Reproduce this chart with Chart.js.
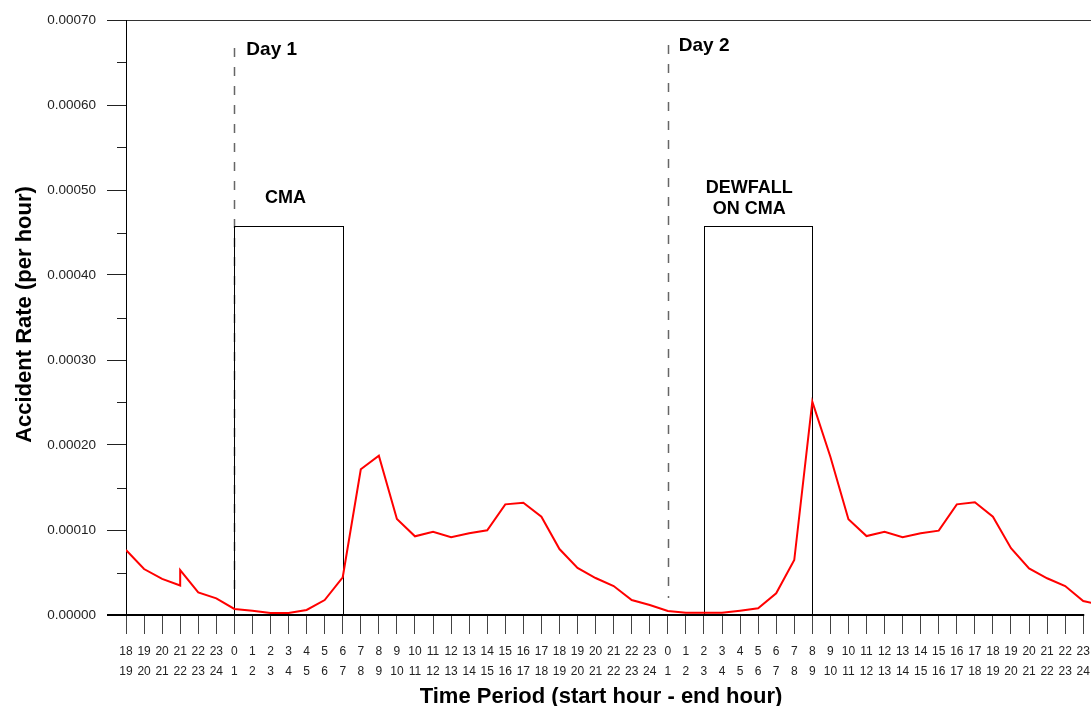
<!DOCTYPE html>
<html>
<head>
<meta charset="utf-8">
<script src="https://cdn.jsdelivr.net/npm/chart.js@4/dist/chart.umd.min.js"></script>
<style>
    html, body { margin: 0; padding: 0; background: #fff; }
    canvas { display: block; }
</style>
</head>
<body>
<canvas id="rateChart" width="1091" height="706"></canvas>
<script>
// tick labels: start hour / end hour of each period
const startHours = [18, 19, 20, 21, 22, 23,
    0, 1, 2, 3, 4, 5, 6, 7, 8, 9, 10, 11, 12, 13, 14, 15, 16, 17, 18, 19, 20, 21, 22, 23,
    0, 1, 2, 3, 4, 5, 6, 7, 8, 9, 10, 11, 12, 13, 14, 15, 16, 17, 18, 19, 20, 21, 22, 23];
const endHours = [19, 20, 21, 22, 23, 24,
    1, 2, 3, 4, 5, 6, 7, 8, 9, 10, 11, 12, 13, 14, 15, 16, 17, 18, 19, 20, 21, 22, 23, 24,
    1, 2, 3, 4, 5, 6, 7, 8, 9, 10, 11, 12, 13, 14, 15, 16, 17, 18, 19, 20, 21, 22, 23, 24];

// period index of each reading (21-22 on the first evening has two readings)
const periodIndex = [0, 1, 2, 3, 3, 4, 5,
    6, 7, 8, 9, 10, 11, 12, 13, 14, 15, 16, 17, 18, 19, 20, 21, 22, 23, 24, 25, 26, 27, 28, 29,
    30, 31, 32, 33, 34, 35, 36, 37, 38, 39, 40, 41, 42, 43, 44, 45, 46, 47, 48, 49, 50, 51, 52, 53,
    54];
const accidentRate = [0.0000765, 0.0000541, 0.0000424, 0.0000347, 0.0000529, 0.0000265, 0.0000196,
    0.0000071, 0.0000051, 0.0000024, 0.0000024, 0.0000059, 0.0000176, 0.0000444, 0.0001714,
    0.0001874, 0.0001129, 0.0000926, 0.0000980, 0.0000914, 0.0000961, 0.0000996, 0.0001302,
    0.0001321, 0.0001156, 0.0000776, 0.0000553, 0.0000435, 0.0000341, 0.0000176, 0.0000118,
    0.0000047, 0.0000027, 0.0000027, 0.0000027, 0.0000051, 0.0000079, 0.0000255, 0.0000647,
    0.0002509, 0.0001862, 0.0001126, 0.0000929, 0.0000980, 0.0000914, 0.0000961, 0.0000992,
    0.0001302, 0.0001326, 0.0001156, 0.0000785, 0.0000549, 0.0000432, 0.0000341, 0.0000165,
    0.0000118];

// annotations (in axis units)
const dayStarts = [6, 30];
const dayNames = ['Day 1', 'Day 2'];
const cmaBox = [6, 12];
const dewfallBox = [32, 38];
const boxTop = 0.000458;

const FONT = '"Liberation Sans", Arial, sans-serif';

const overlay = {
    id: 'overlay',
    beforeDatasetsDraw(chart) {
        const { ctx, scales: { x, y }, chartArea } = chart;
        ctx.save();

        // day separators
        ctx.strokeStyle = '#666';
        ctx.lineWidth = 1.5;
        ctx.setLineDash([9, 10]);
        const dashTops = [48, 45];
        dayStarts.forEach((d, i) => {
            const px = Math.round(x.getPixelForValue(d)) + 0.5;
            ctx.beginPath();
            ctx.moveTo(px, dashTops[i]);
            ctx.lineTo(px, y.getPixelForValue(0.00002));
            ctx.stroke();
        });
        ctx.setLineDash([]);

        // CMA boxes
        ctx.strokeStyle = '#000';
        ctx.lineWidth = 1;
        [cmaBox, dewfallBox].forEach(b => {
            const x1 = Math.round(x.getPixelForValue(b[0])) + 0.5;
            const x2 = Math.round(x.getPixelForValue(b[1])) + 0.5;
            const y1 = Math.round(y.getPixelForValue(boxTop)) + 0.5;
            const y2 = Math.round(y.getPixelForValue(0)) + 0.5;
            ctx.strokeRect(x1, y1, x2 - x1, y2 - y1);
        });

        // bottom axis line
        ctx.strokeStyle = '#000';
        ctx.lineWidth = 2;
        ctx.beginPath();
        ctx.moveTo(chartArea.left - 19, y.getPixelForValue(0));
        ctx.lineTo(x.getPixelForValue(startHours.length - 1) + 1, y.getPixelForValue(0));
        ctx.stroke();

        // minor ticks on y
        ctx.strokeStyle = '#222';
        ctx.lineWidth = 1;
        for (let v = 0.00005; v < 0.0007; v += 0.0001) {
            const py = Math.round(y.getPixelForValue(v)) + 0.5;
            ctx.beginPath();
            ctx.moveTo(chartArea.left - 9, py);
            ctx.lineTo(chartArea.left, py);
            ctx.stroke();
        }
        ctx.restore();
    },
    afterDraw(chart) {
        const { ctx, scales: { x, y } } = chart;
        ctx.save();
        ctx.fillStyle = '#000';
        ctx.textBaseline = 'alphabetic';

        ctx.font = 'bold 19px ' + FONT;
        ctx.textAlign = 'left';
        ctx.fillText(dayNames[0], x.getPixelForValue(dayStarts[0]) + 12, 55);
        ctx.fillText(dayNames[1], x.getPixelForValue(dayStarts[1]) + 11, 51);

        ctx.font = 'bold 18px ' + FONT;
        ctx.textAlign = 'center';
        const cmaMid = (x.getPixelForValue(cmaBox[0]) + x.getPixelForValue(cmaBox[1])) / 2;
        ctx.fillText('CMA', cmaMid - 3, 203);
        const dewMid = (x.getPixelForValue(dewfallBox[0]) + x.getPixelForValue(dewfallBox[1])) / 2;
        ctx.fillText('DEWFALL', dewMid - 9, 193);
        ctx.fillText('ON CMA', dewMid - 9, 214);

        // axis titles
        ctx.font = 'bold 22px ' + FONT;
        ctx.fillText('Time Period (start hour - end hour)', 601, 703);
        ctx.translate(31, (y.top + y.bottom) / 2 - 3);
        ctx.rotate(-Math.PI / 2);
        ctx.fillText('Accident Rate (per hour)', 0, 0);
        ctx.restore();
    }
};

new Chart(document.getElementById('rateChart'), {
    type: 'line',
    data: {
        datasets: [{
            data: periodIndex.map((p, i) => ({ x: p, y: accidentRate[i] })),
            borderColor: '#ff0000',
            borderWidth: 2,
            pointRadius: 0,
            tension: 0,
            fill: false
        }]
    },
    options: {
        responsive: false,
        animation: false,
        layout: { padding: { top: 20, right: 0, bottom: 0, left: 0 } },
        plugins: { legend: { display: false }, tooltip: { enabled: false } },
        scales: {
            x: {
                type: 'linear',
                min: 0,
                max: 53.43,
                afterBuildTicks: s => { s.ticks = startHours.map((_, i) => ({ value: i })); },
                afterFit: s => { s.height = 91; s.paddingLeft = 0; s.paddingRight = 0; },
                border: { display: false },
                grid: { drawOnChartArea: false, drawTicks: true, tickLength: 19, color: '#444', lineWidth: 1 },
                ticks: {
                    autoSkip: false,
                    maxRotation: 0,
                    padding: 8,
                    color: '#222',
                    font: { family: FONT, size: 12, lineHeight: 1.667 },
                    callback: v => [String(startHours[v]), String(endHours[v])]
                }
            },
            y: {
                min: 0,
                max: 0.0007,
                afterFit: s => { s.width = 126; s.paddingTop = 0; s.paddingBottom = 0; },
                border: { display: true, color: '#000', width: 1 },
                grid: {
                    drawOnChartArea: true,
                    tickLength: 19,
                    lineWidth: 1,
                    color: c => (c.tick && c.tick.value > 0.00069 ? '#333' : 'rgba(0,0,0,0)'),
                    tickColor: '#222'
                },
                ticks: {
                    stepSize: 0.0001,
                    padding: 11,
                    color: '#222',
                    font: { family: FONT, size: 13.5 },
                    callback: v => Number(v).toFixed(5)
                }
            }
        }
    },
    plugins: [overlay]
});
</script>
</body>
</html>
